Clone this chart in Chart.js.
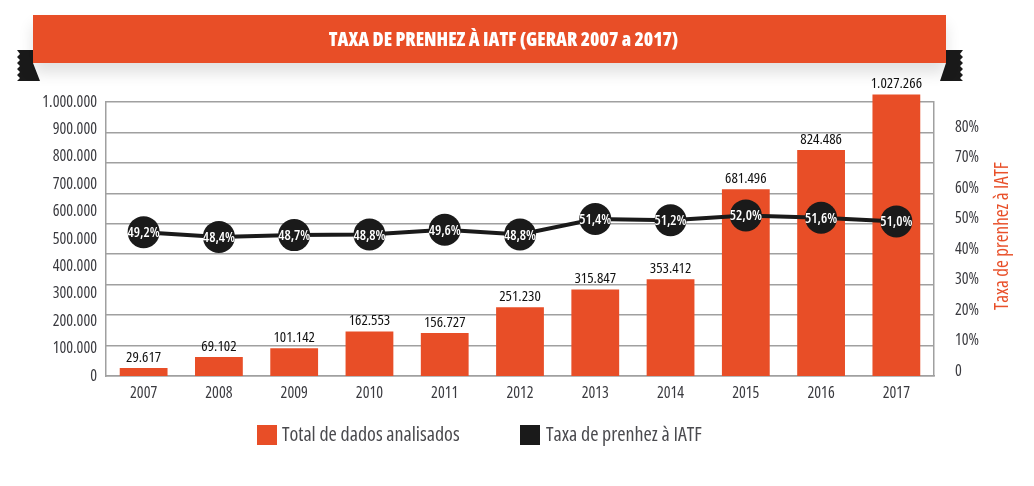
<!DOCTYPE html>
<html>
<head>
<meta charset="utf-8">
<script src="https://cdn.jsdelivr.net/npm/chart.js@4.4.1/dist/chart.umd.min.js"></script>
<style>
  html, body { margin: 0; padding: 0; background: #fff; overflow: hidden; }
  #wrap { position: relative; width: 1034px; height: 486px; }
  #c { position: absolute; left: 0; top: 0; }
  .narrow { font-family: "Open Sans", "DejaVu Sans Condensed", sans-serif; font-stretch: 75%; }
  #banner { position: absolute; left: 33px; top: 15px; width: 913px; height: 48px; background: #E84E27;
    box-sizing: border-box; padding-left: 28px;
    color: #fff; font-weight: 800; font-size: 19px; line-height: 48px; text-align: center; z-index: 3;
    box-shadow: 0 10px 14px rgba(0,0,0,0.12); }
  .rib { position: absolute; top: 50px; width: 23px; height: 31px; background: #1a1a1a; z-index: 2; }
  #ribL { left: 17px; clip-path: polygon(0 0, 16px 0, 16px 13px, 23px 31px, 0 31px, 3px 28px, 0 25px, 3px 22px, 0 19px, 3px 16px, 0 13px, 3px 10px, 0 7px, 3px 4px); }
  #ribR { left: 940px; clip-path: polygon(6px 0, 23px 0, 20px 4px, 23px 7px, 20px 10px, 23px 13px, 20px 16px, 23px 19px, 20px 22px, 23px 25px, 20px 28px, 23px 31px, 0 31px, 6px 13px); }
  #rtitle { position: absolute; left: 1001px; top: 236px; transform: translate(-50%, -50%) rotate(-90deg);
    color: #E84E27; font-size: 19px; white-space: nowrap; }
  .lg { position: absolute; top: 425px; width: 20px; height: 20px; }
  .lgt { position: absolute; top: 421px; font-size: 20px; line-height: 26px; color: #4a4a4e; white-space: nowrap; }
</style>
</head>
<body>
<div id="wrap">
  <canvas id="c" width="1034" height="486"></canvas>
  <div id="ribL" class="rib"></div>
  <div id="ribR" class="rib"></div>
  <div id="banner" class="narrow">TAXA DE PRENHEZ À IATF (GERAR 2007 a 2017)</div>
  <div id="rtitle" class="narrow">Taxa de prenhez à IATF</div>
  <div class="lg" style="left:257px;background:#E84E27"></div>
  <div class="lgt narrow" style="left:282px">Total de dados analisados</div>
  <div class="lg" style="left:520px;background:#1a1a1a"></div>
  <div class="lgt narrow" style="left:546px">Taxa de prenhez à IATF</div>
</div>
<script>
const years = ['2007','2008','2009','2010','2011','2012','2013','2014','2015','2016','2017'];
const totals = [29617, 69102, 101142, 162553, 156727, 251230, 315847, 353412, 681496, 824486, 1027266];
const rates = [49.2, 48.4, 48.7, 48.8, 49.6, 48.8, 51.4, 51.2, 52.0, 51.6, 51.0];
const leftTickStep = 100000;
const leftMax = 1000000;
const rightTickStep = 10;
const rightMax = 90;

const FAMILY = '"Open Sans", "DejaVu Sans Condensed", sans-serif';
const ORANGE = '#E84E27';
const DARK = '#1a1a1a';
const GRID = '#a0a0a0';
const TXT = '#3a3a3f';

function fmtThousands(v) {
  return String(Math.round(v)).replace(/\B(?=(\d{3})+(?!\d))/g, '.');
}
function fmtRate(v) {
  return v.toFixed(1).replace('.', ',') + '%';
}

const labelPlugin = {
  id: 'valueLabels',
  afterDatasetsDraw(chart) {
    const ctx = chart.ctx;
    ctx.save();
    const bars = chart.getDatasetMeta(0).data;
    ctx.font = 'condensed 15px ' + FAMILY;
    ctx.fillStyle = '#111';
    ctx.textAlign = 'center';
    ctx.textBaseline = 'bottom';
    bars.forEach((b, i) => ctx.fillText(fmtThousands(totals[i]), b.x, b.y - 3));
    const pts = chart.getDatasetMeta(1).data;
    ctx.font = '600 condensed 14px ' + FAMILY;
    ctx.fillStyle = '#fff';
    ctx.textBaseline = 'middle';
    pts.forEach((p, i) => ctx.fillText(fmtRate(rates[i]), p.x, p.y + 1));
    ctx.restore();
  }
};

const tickFont = { family: FAMILY, size: 16, weight: 'normal condensed' };

new Chart(document.getElementById('c'), {
  data: {
    labels: years,
    datasets: [
      {
        type: 'bar',
        label: 'Total de dados analisados',
        data: totals,
        backgroundColor: ORANGE,
        borderWidth: 0,
        yAxisID: 'y',
        order: 1,
        barPercentage: 0.635,
        categoryPercentage: 1,
        clip: false
      },
      {
        type: 'line',
        label: 'Taxa de prenhez à IATF',
        data: rates,
        borderColor: DARK,
        backgroundColor: DARK,
        borderWidth: 4,
        pointRadius: 16,
        pointBackgroundColor: DARK,
        pointBorderWidth: 0,
        tension: 0,
        yAxisID: 'yLine',
        order: 0,
        clip: false
      }
    ]
  },
  options: {
    responsive: false,
    animation: false,
    devicePixelRatio: 1,
    layout: { padding: { top: 102, left: 0, right: 0, bottom: 71 } },
    plugins: {
      legend: { display: false },
      tooltip: { enabled: false },
      title: { display: false }
    },
    scales: {
      x: {
        type: 'category',
        offset: true,
        grid: { display: false, drawTicks: false },
        border: { display: true, color: GRID, width: 1.5 },
        ticks: { color: TXT, font: tickFont, padding: 8, maxRotation: 0 },
        afterFit(s) { s.height = 39; }
      },
      y: {
        position: 'left',
        min: 0,
        max: leftMax,
        grid: { display: false, drawTicks: false },
        border: { display: true, color: GRID, width: 1.5 },
        ticks: {
          stepSize: leftTickStep,
          color: TXT,
          font: tickFont,
          padding: 9,
          callback: (v) => fmtThousands(v)
        },
        afterFit(s) { s.width = 106; }
      },
      y2: {
        position: 'right',
        min: 0,
        max: rightMax,
        grid: { display: true, color: GRID, lineWidth: 1.5, drawTicks: false },
        border: { display: true, color: GRID, width: 1.5 },
        ticks: {
          stepSize: rightTickStep,
          color: TXT,
          font: tickFont,
          padding: 21,
          labelOffset: -5,
          callback: (v) => (v === 0 ? '0' : (v >= rightMax ? '' : v + '%'))
        },
        afterFit(s) { s.width = 100; }
      },
      yLine: {
        display: false,
        min: 25.1,
        max: 71.0
      }
    }
  },
  plugins: [labelPlugin]
});
</script>
</body>
</html>
